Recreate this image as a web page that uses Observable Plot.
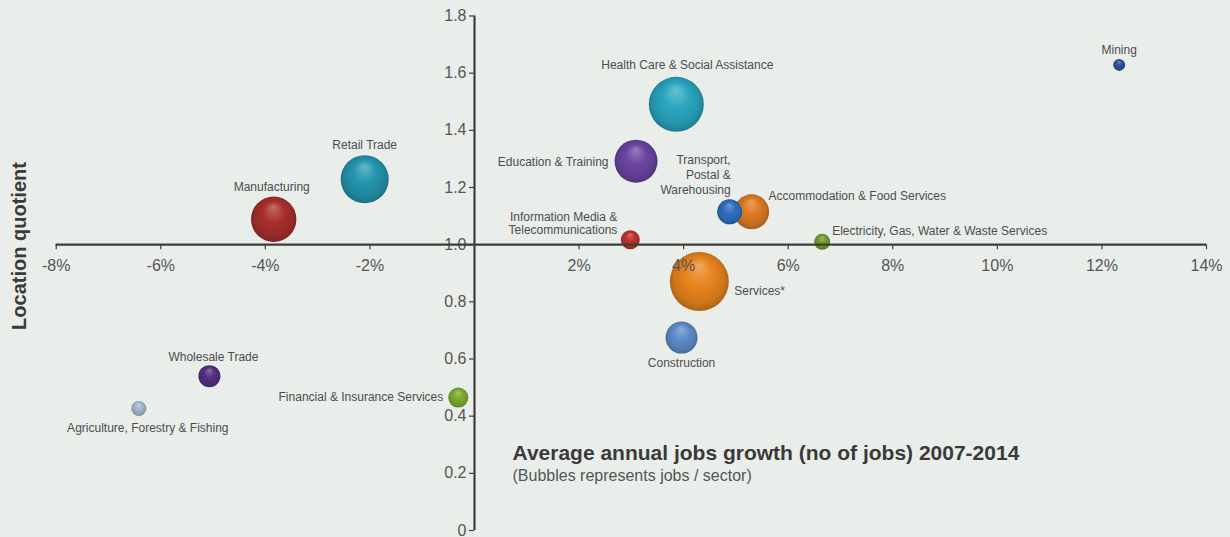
<!DOCTYPE html>
<html>
<head>
<meta charset="utf-8">
<script src="https://cdn.jsdelivr.net/npm/d3@7"></script>
<script src="https://cdn.jsdelivr.net/npm/@observablehq/plot@0.6"></script>
<style>
  html, body { margin: 0; padding: 0; background: #e9eeea; }
  #chart svg { display: block; }
</style>
</head>
<body>
<div id="chart"></div>
<script>
// ---- data ----
const sectors = [
  "Agriculture, Forestry & Fishing",
  "Wholesale Trade",
  "Manufacturing",
  "Retail Trade",
  "Financial & Insurance Services",
  "Information Media &\nTelecommunications",
  "Education & Training",
  "Health Care & Social Assistance",
  "Construction",
  "Services*",
  "Transport,\nPostal &\nWarehousing",
  "Accommodation & Food Services",
  "Electricity, Gas, Water & Waste Services",
  "Mining"
];
const growth = [-6.42, -5.07, -3.84, -2.10, -0.31, 2.98, 3.09, 3.86, 3.96, 4.30, 4.88, 5.30, 6.65, 12.33]; // % avg annual jobs growth
const lq     = [0.427, 0.540, 1.089, 1.229, 0.465, 1.017, 1.292, 1.491, 0.675, 0.871, 1.115, 1.115, 1.010, 1.629]; // location quotient
const jobs   = [56, 121, 515, 576, 100, 90, 462, 756, 256, 870, 156, 306, 64, 36]; // relative jobs per sector
const colors = ["#a3b5cc", "#55307e", "#a8302c", "#2396ae", "#7dab2e", "#c0302c", "#6b45a0", "#2aa6c0", "#5d8cc8", "#e8841e", "#2f6fc0", "#dc7a22", "#6f9c2c", "#2a5590"];
const xTicks = [-8, -6, -4, -2, 0, 2, 4, 6, 8, 10, 12, 14];
const yTicks = [0, 0.2, 0.4, 0.6, 0.8, 1.0, 1.2, 1.4, 1.6, 1.8];

// ---- label layout (pixel offsets from bubble centre; styling only) ----
const labelLayout = [
  {anchor: "middle", dx: 9,   dy: 19},
  {anchor: "middle", dx: 4,   dy: -20},
  {anchor: "middle", dx: -2,  dy: -33.5},
  {anchor: "middle", dx: 0,   dy: -35.5},
  {anchor: "end",    dx: -15, dy: -1},
  {anchor: "end",    dx: -13, dy: -16.5},
  {anchor: "end",    dx: -27.5, dy: 0},
  {anchor: "middle", dx: 11,  dy: -40.5},
  {anchor: "middle", dx: 0,   dy: 25},
  {anchor: "start",  dx: 35,  dy: 9},
  {anchor: "end",    dx: 1,   dy: -38},
  {anchor: "start",  dx: 17,  dy: -17},
  {anchor: "start",  dx: 10,  dy: -12},
  {anchor: "middle", dx: 0,   dy: -16}
];

const data = sectors.map((s, i) => ({sector: s, growth: growth[i], lq: lq[i], jobs: jobs[i], i}));
const urls = sectors.map((s, i) => `url(#bub${i})`);

const axisColor = "#3d3d3d";
const tickText = "#555555";
const labelFill = "#4d4d4d";

const labelMarks = data.map((d, i) => Plot.text([d], {
  x: "growth", y: "lq", text: "sector",
  textAnchor: labelLayout[i].anchor,
  dx: labelLayout[i].dx, dy: labelLayout[i].dy,
  lineAnchor: "middle",
  lineHeight: i === 5 ? 1.04 : 1.25,
  fontSize: 12, fill: labelFill
}));

const chart = Plot.plot({
  width: 1230,
  height: 537,
  marginTop: 0, marginRight: 0, marginBottom: 0, marginLeft: 0,
  style: {background: "#e9eeea", fontFamily: "'Liberation Sans', Arial, sans-serif", overflow: "visible"},
  x: {domain: [xTicks[0], xTicks[xTicks.length - 1]], range: [55.7, 1206], axis: null},
  y: {domain: [yTicks[0], yTicks[yTicks.length - 1]], range: [530, 15.5], axis: null},
  r: {type: "sqrt", domain: [0, d3.max(jobs)], range: [0, 29.5]},
  color: {type: "ordinal", domain: sectors, range: urls},
  marks: [
    // bubbles
    Plot.dot(data, {x: "growth", y: "lq", r: "jobs", fill: "sector", stroke: "none"}),
    // labels
    ...labelMarks,
    // y axis
    Plot.ruleX([0], {y1: yTicks[0], y2: yTicks[yTicks.length - 1], stroke: axisColor, strokeWidth: 2.2}),
    Plot.ruleY(yTicks, {y: d => d, x1: 0, x2: 0, insetLeft: -5, stroke: axisColor, strokeWidth: 1.2}),
    Plot.text(yTicks, {x: 0, y: d => d, text: d => d === 0 ? "0" : d.toFixed(1), textAnchor: "end", dx: -8, lineAnchor: "middle", fontSize: 16, fill: tickText}),
    // x axis (crossing at y = 1.0)
    Plot.ruleY([1], {x1: xTicks[0], x2: xTicks[xTicks.length - 1], stroke: axisColor, strokeWidth: 2.2}),
    Plot.ruleX(xTicks.filter(d => d !== 0), {x: d => d, y1: 1, y2: 1, insetBottom: -5, stroke: axisColor, strokeWidth: 1.2}),
    Plot.text(xTicks.filter(d => d !== 0), {x: d => d, y: 1, text: d => d + "%", dy: 21, lineAnchor: "middle", fontSize: 16, fill: tickText}),
    // titles
    Plot.text(["Location quotient"], {frameAnchor: "top-left", dx: 19.5, dy: 245.5, rotate: -90, textAnchor: "middle", lineAnchor: "middle", fontSize: 20, fontWeight: "bold", fill: "#3a3a3a"}),
    Plot.text(["Average annual jobs growth (no of jobs) 2007-2014"], {frameAnchor: "top-left", dx: 512, dy: 453, textAnchor: "start", lineAnchor: "middle", fontSize: 21, fontWeight: "bold", fill: "#3a3a3a"}),
    Plot.text(["(Bubbles represents jobs / sector)"], {frameAnchor: "top-left", dx: 512, dy: 475, textAnchor: "start", lineAnchor: "middle", fontSize: 16, fill: "#555555"})
  ]
});

// glossy radial gradients for bubbles
const ns = "http://www.w3.org/2000/svg";
const defs = document.createElementNS(ns, "defs");
colors.forEach((c, i) => {
  const g = document.createElementNS(ns, "radialGradient");
  g.setAttribute("id", `bub${i}`);
  g.setAttribute("cx", "50%"); g.setAttribute("cy", "50%"); g.setAttribute("r", "52%");
  g.setAttribute("fx", "50%"); g.setAttribute("fy", "22%");
  const base = d3.color(c);
  const stops = [
    [0, d3.interpolateRgb(c, "#ffffff")(0.3)],
    [0.45, base.formatHex()],
    [0.82, base.darker(0.35).formatHex()],
    [1, base.darker(0.9).formatHex()]
  ];
  stops.forEach(([o, col]) => {
    const s = document.createElementNS(ns, "stop");
    s.setAttribute("offset", o);
    s.setAttribute("stop-color", col);
    g.appendChild(s);
  });
  defs.appendChild(g);
});
chart.insertBefore(defs, chart.firstChild);

document.getElementById("chart").appendChild(chart);
</script>
</body>
</html>
